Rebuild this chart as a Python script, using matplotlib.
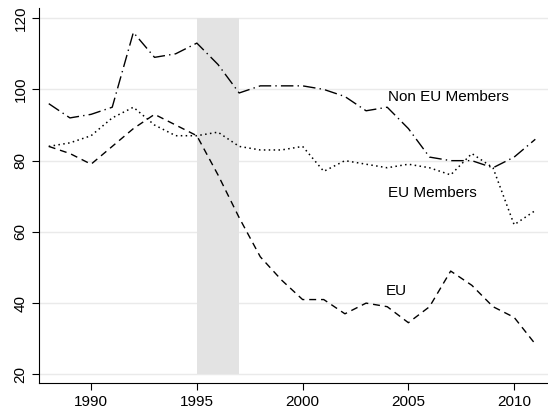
import matplotlib
matplotlib.use("Agg")
import matplotlib.pyplot as plt

years = list(range(1988, 2012))
non_eu = [96, 92, 93, 95, 116, 109, 110, 113, 107, 99, 101, 101,
          101, 100, 98, 94, 95, 89, 81, 80, 80, 78, 81, 86]
eu_members = [84, 85, 87, 92, 95, 90, 87, 87, 88, 84, 83, 83,
              84, 77, 80, 79, 78, 79, 78, 76, 82, 78, 62, 66]
eu = [84, 82, 79, 84, 89, 93, 90, 87, 76, 64, 53, 46.5,
      41, 41, 37, 40, 39, 34.5, 39, 49, 45, 39, 36, 28.5]
shade_years = (1995, 1997)
y_ticks = [20, 40, 60, 80, 100, 120]
x_ticks = [1990, 1995, 2000, 2005, 2010]

plt.rcParams["font.family"] = ["Liberation Sans", "DejaVu Sans"]

fig = plt.figure(figsize=(5.48, 4.13), dpi=100)
ax = fig.add_axes([0.072, 0.072, 0.928, 0.909])

ax.fill_between(shade_years, 20, 120, color="#e3e3e3", lw=0, zorder=1)
for t in y_ticks:
    ax.axhline(t, color="#eaeaea", lw=1.0, zorder=0)

ax.plot(years, non_eu, color="black", lw=1.0, dashes=(9, 3, 1, 3), zorder=3)
ax.plot(years, eu_members, color="black", lw=1.1, dashes=(1, 2.2), zorder=3)
ax.plot(years, eu, color="black", lw=1.0, dashes=(5, 3.5), zorder=3)

ax.text(2004.05, 98, "Non EU Members", fontsize=11, va="center", ha="left")
ax.text(2004.05, 71, "EU Members", fontsize=11, va="center", ha="left")
ax.text(2003.95, 43.5, "EU", fontsize=11, va="center", ha="left")

ax.set_xlim(1987.56, 2011.6)
ax.set_ylim(17.5, 122.9)
ax.set_yticks(y_ticks)
ax.set_xticks(x_ticks)
ax.tick_params(axis="y", labelrotation=90, labelsize=11, length=5, width=0.8)
ax.tick_params(axis="x", labelsize=11, length=5, width=0.8)
for lab in ax.get_yticklabels():
    lab.set_va("center")
for side in ["top", "right"]:
    ax.spines[side].set_visible(False)
ax.spines["left"].set_linewidth(0.8)
ax.spines["bottom"].set_linewidth(0.8)

fig.savefig("out.png", dpi=100)
